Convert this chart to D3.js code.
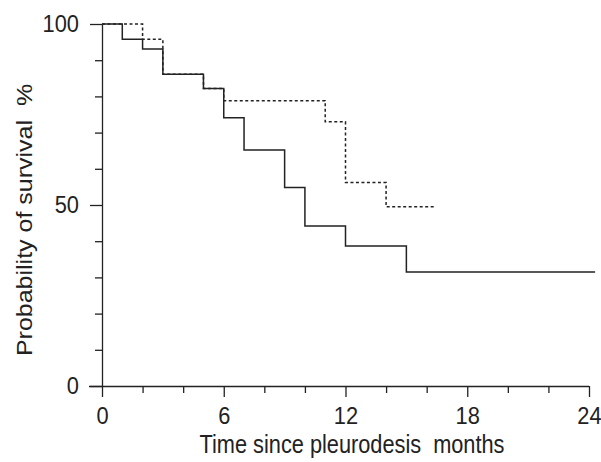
<!DOCTYPE html>
<html>
<head>
<meta charset="utf-8">
<script src="https://cdn.jsdelivr.net/npm/d3@7"></script>
<style>
  body { margin: 0; background: #fff; }
  svg { display: block; }
  text { font-family: "Liberation Sans", Arial, Helvetica, sans-serif; fill: #222; }
</style>
</head>
<body>
<div id="chart"></div>
<script>
  // Kaplan-Meier steps
  const solidTimes = [0, 1, 2, 3, 5, 6, 7, 9, 10, 12, 15, 24.3];
  const solidSurvival = [100, 95.8, 93.1, 86.1, 82.2, 74.1, 65.2, 54.8, 44.2, 38.7, 31.5, 31.5];
  const dashedTimes = [0, 2, 3, 5, 6, 11, 12, 14, 16.4];
  const dashedSurvival = [100, 95.8, 86.1, 82.2, 78.8, 73.0, 56.2, 49.5, 49.5];

  const xMajorTicks = [0, 6, 12, 18, 24];
  const xMinorTicks = [2, 4, 8, 10, 14, 16, 20, 22];
  const yMajorTicks = [0, 50, 100];
  const yMinorTicks = [10, 20, 30, 40, 60, 70, 80, 90];

  const xTitle = 'Time since pleurodesis  months';
  const yTitle = 'Probability of survival  %';

  const width = 601;
  const height = 462;
  const margin = { top: 24, right: 12, bottom: 76, left: 102 };

  // the printed figure is a bit narrow, so text gets squeezed sideways
  const squeeze = 0.87;
  const tickSqueeze = 0.95;

  const svg = d3.select('#chart').append('svg')
    .attr('width', width)
    .attr('height', height);

  const x = d3.scaleLinear()
    .domain([0, 24])
    .range([margin.left, width - margin.right]);

  const y = d3.scaleLinear()
    .domain([0, 100])
    .range([height - margin.bottom, margin.top]);

  const ink = '#222';

  // x axis: major ticks with labels, minor ticks without
  svg.append('g')
    .attr('transform', `translate(0,${y(0)})`)
    .call(d3.axisBottom(x).tickValues(xMinorTicks).tickSize(7).tickSizeOuter(0).tickFormat(''))
    .call(g => g.select('.domain').remove());

  const xAxis = svg.append('g')
    .attr('transform', `translate(0,${y(0)})`)
    .call(d3.axisBottom(x).tickValues(xMajorTicks).tickSize(11).tickSizeOuter(0).tickPadding(11));
  xAxis.select('.domain').attr('d', `M${x(0) - 13},0.5H${x(24)}`);
  xAxis.selectAll('.tick text')
    .attr('transform', `scale(${tickSqueeze},1)`);

  // y axis
  svg.append('g')
    .attr('transform', `translate(${x(0)},0)`)
    .call(d3.axisLeft(y).tickValues(yMinorTicks).tickSize(7).tickSizeOuter(0).tickFormat(''))
    .call(g => g.select('.domain').remove());

  const yAxis = svg.append('g')
    .attr('transform', `translate(${x(0)},0)`)
    .call(d3.axisLeft(y).tickValues(yMajorTicks).tickSize(12).tickSizeOuter(0).tickPadding(11));
  yAxis.selectAll('.tick text')
    .attr('x', -23 / tickSqueeze)
    .attr('transform', `scale(${tickSqueeze},1)`);

  svg.selectAll('.domain, .tick line')
    .attr('stroke', ink)
    .attr('stroke-width', 1.3);
  svg.selectAll('.tick text')
    .attr('font-size', 23)
    .attr('font-family', '"Liberation Sans", Arial, sans-serif')
    .attr('fill', ink);

  // survival curves
  const step = d3.line()
    .x(d => x(d[0]))
    .y(d => y(d[1]))
    .curve(d3.curveStepAfter);

  svg.append('path')
    .datum(d3.zip(dashedTimes, dashedSurvival))
    .attr('fill', 'none')
    .attr('stroke', ink)
    .attr('stroke-width', 1.5)
    .attr('stroke-dasharray', '3,2.5')
    .attr('d', step);

  svg.append('path')
    .datum(d3.zip(solidTimes, solidSurvival))
    .attr('fill', 'none')
    .attr('stroke', ink)
    .attr('stroke-width', 1.5)
    .attr('d', step);

  // axis titles
  svg.append('text')
    .attr('transform', `translate(352,453) scale(${squeeze},1)`)
    .attr('text-anchor', 'middle')
    .attr('font-size', 25)
    .style('white-space', 'pre')
    .text(xTitle);

  svg.append('text')
    .attr('transform', `translate(32,220) rotate(-90) scale(1,${squeeze})`)
    .attr('text-anchor', 'middle')
    .attr('font-size', 25)
    .style('white-space', 'pre')
    .text(yTitle);
</script>
</body>
</html>
